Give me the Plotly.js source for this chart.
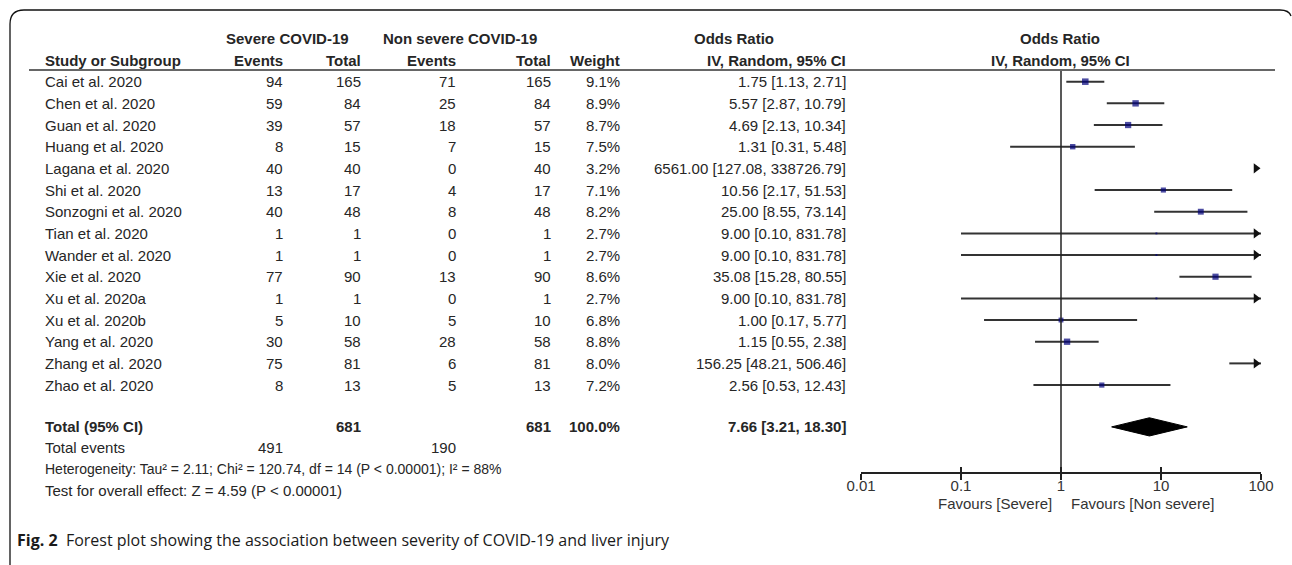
<!DOCTYPE html>
<html><head><meta charset="utf-8">
<script src="https://cdn.plot.ly/plotly-3.0.1.min.js"></script>
<style>html,body{margin:0;padding:0;background:#fff;} #chart{width:1292px;height:565px;}</style>
</head><body><div id="chart"></div>
<script>
// ---------- data ----------
const studies = ["Cai et al. 2020","Chen et al. 2020","Guan et al. 2020","Huang et al. 2020","Lagana et al. 2020","Shi et al. 2020","Sonzogni et al. 2020","Tian et al. 2020","Wander et al. 2020","Xie et al. 2020","Xu et al. 2020a","Xu et al. 2020b","Yang et al. 2020","Zhang et al. 2020","Zhao et al. 2020"];
const sevEvents = [94,59,39,8,40,13,40,1,1,77,1,5,30,75,8];
const sevTotal  = [165,84,57,15,40,17,48,1,1,90,1,10,58,81,13];
const nonEvents = [71,25,18,7,0,4,8,0,0,13,0,5,28,6,5];
const nonTotal  = [165,84,57,15,40,17,48,1,1,90,1,10,58,81,13];
const weights   = [9.1,8.9,8.7,7.5,3.2,7.1,8.2,2.7,2.7,8.6,2.7,6.8,8.8,8.0,7.2];
const oddsRatio = [1.75,5.57,4.69,1.31,6561.00,10.56,25.00,9.00,9.00,35.08,9.00,1.00,1.15,156.25,2.56];
const ciLower   = [1.13,2.87,2.13,0.31,127.08,2.17,8.55,0.10,0.10,15.28,0.10,0.17,0.55,48.21,0.53];
const ciUpper   = [2.71,10.79,10.34,5.48,338726.79,51.53,73.14,831.78,831.78,80.55,831.78,5.77,2.38,506.46,12.43];
const totalSev = 681, totalNon = 681, totalWeight = 100.0;
const eventsSev = 491, eventsNon = 190;
const pooledOR = 7.66, pooledLo = 3.21, pooledHi = 18.30;
const axisTicks = [0.01,0.1,1,10,100];
const axisTickText = ["0.01","0.1","1","10","100"];
const heterogeneityText = "Heterogeneity: Tau² = 2.11; Chi² = 120.74, df = 14 (P < 0.00001); I² = 88%";
const overallText = "Test for overall effect: Z = 4.59 (P < 0.00001)";
const captionBold = "Fig. 2";
const captionText = "Forest plot showing the association between severity of COVID-19 and liver injury";

// ---------- layout helpers ----------
const W = 1292, H = 565;
const AMIN = 0.01, AMAX = 100;
const px = x => x / W;
const py = y => 1 - y / H;
const FONT = "Arial, 'Liberation Sans', sans-serif";
const TXT = "#262626";
const fmt = v => v.toFixed(2);
const orLabel = (o, l, h) => fmt(o) + " [" + fmt(l) + ", " + fmt(h) + "]";

const ann = [];
function t(x, row, text, anchor, bold, extra) {
  ann.push(Object.assign({
    xref: "paper", yref: "y", x: px(x), y: row, text: bold ? "<b>" + text + "</b>" : text,
    xanchor: anchor, yanchor: "middle", showarrow: false,
    font: {family: FONT, size: 15, color: TXT}
  }, extra || {}));
}
// column right edges
const C = {study: 43, se: 285, st: 363, ne: 458, nt: 553, w: 622, or: 848};

// headers
const H1 = -1.98, H2 = -0.98;
t(287, H1, "Severe COVID-19", "center", true);
t(460, H1, "Non severe COVID-19", "center", true);
t(734, H1, "Odds Ratio", "center", true);
t(1060, H1, "Odds Ratio", "center", true);
t(C.study, H2, "Study or Subgroup", "left", true);
t(C.se, H2, "Events", "right", true);
t(C.st, H2, "Total", "right", true);
t(C.ne, H2, "Events", "right", true);
t(C.nt, H2, "Total", "right", true);
t(C.w, H2, "Weight", "right", true);
t(C.or, H2, "IV, Random, 95% CI", "right", true);
t(1060, H2, "IV, Random, 95% CI", "center", true);

// study rows
studies.forEach((s, i) => {
  t(C.study, i, s, "left");
  t(C.se, i, String(sevEvents[i]), "right");
  t(C.st, i, String(sevTotal[i]), "right");
  t(C.ne, i, String(nonEvents[i]), "right");
  t(C.nt, i, String(nonTotal[i]), "right");
  t(C.w, i, weights[i].toFixed(1) + "%", "right");
  t(C.or, i, orLabel(oddsRatio[i], ciLower[i], ciUpper[i]), "right");
});

// totals
const RT = 15.93, RE = 16.9, RH = 17.87, RZ = 18.88, RF = 19.45;
t(C.study, RT, "Total (95% CI)", "left", true);
t(C.st, RT, String(totalSev), "right", true);
t(C.nt, RT, String(totalNon), "right", true);
t(C.w, RT, totalWeight.toFixed(1) + "%", "right", true);
t(C.or, RT, orLabel(pooledOR, pooledLo, pooledHi), "right", true);
t(C.study, RE, "Total events", "left");
t(C.se, RE, String(eventsSev), "right");
t(C.ne, RE, String(eventsNon), "right");
t(C.study, RH, heterogeneityText, "left", false, {font: {family: FONT, size: 14, color: TXT}});
t(C.study, RZ, overallText, "left");
t(1054, RF, "Favours [Severe]", "right", false, {font: {family: FONT, size: 15, color: "#333"}});
t(1069, RF, "Favours [Non severe]", "left", false, {font: {family: FONT, size: 15, color: "#333"}});

// caption
ann.push({
  xref: "paper", yref: "paper", x: px(15), y: py(540), xanchor: "left", yanchor: "middle", showarrow: false,
  text: "<b>" + captionBold + "</b>  " + captionText,
  font: {family: "'Open Sans', 'Noto Sans', sans-serif", size: 16, color: "#1a1a1a"}
});

// ---------- traces ----------
const lineX = [], lineY = [];
const ptX = [], ptY = [], ptS = [];
const arX = [], arY = [];
studies.forEach((s, i) => {
  const lo = Math.max(ciLower[i], AMIN), hi = Math.min(ciUpper[i], AMAX);
  if (lo < hi) { lineX.push(lo, hi, null); lineY.push(i, i, null); }
  if (oddsRatio[i] >= AMIN && oddsRatio[i] <= AMAX) { ptX.push(oddsRatio[i]); ptY.push(i); ptS.push(weights[i] * 0.72); }
  if (ciUpper[i] > AMAX) { arX.push(AMAX); arY.push(i); }
});

const traces = [
  {x: [1, 1], y: [-0.54, 18.0], xaxis: "x2", yaxis: "y", mode: "lines", line: {color: "#222", width: 1.5}, hoverinfo: "skip", showlegend: false},
  {x: lineX, y: lineY, mode: "lines", line: {color: "#333", width: 2}, hoverinfo: "skip", showlegend: false},
  {x: ptX, y: ptY, mode: "markers", marker: {symbol: "square", size: ptS, color: "#00007a", line: {width: 0}}, hoverinfo: "skip", showlegend: false},
  {x: arX, y: arY, mode: "markers", cliponaxis: false, marker: {symbol: "triangle-right", size: 9, color: "#111", line: {width: 0}}, hoverinfo: "skip", showlegend: false,
   xaxis: "x3", yaxis: "y"},
  {x: [pooledLo, pooledOR, pooledHi, pooledOR, pooledLo], y: [RT, RT - 0.42, RT, RT + 0.42, RT],
   mode: "lines", fill: "toself", fillcolor: "#000", line: {color: "#000", width: 1}, hoverinfo: "skip", showlegend: false}
];

const axisPos = py(472);
const baseX = {
  type: "log", range: [-2, 2], domain: [px(861), px(1261)],
  anchor: "free", position: axisPos, showgrid: false, zeroline: false,
  tickvals: axisTicks, fixedrange: true
};

const layout = {
  width: W, height: H, margin: {l: 0, r: 0, t: 0, b: 0},
  paper_bgcolor: "#fff", plot_bgcolor: "rgba(0,0,0,0)", showlegend: false,
  xaxis: Object.assign({}, baseX, {
    showline: true, linecolor: "#222", linewidth: 1.5,
    ticks: "outside", ticklen: 6, tickwidth: 1.5, tickcolor: "#222",
    ticktext: axisTickText, showticklabels: true, ticklabelstandoff: -7,
    tickfont: {family: FONT, size: 15, color: "#333"}
  }),
  xaxis2: Object.assign({}, baseX, {
    overlaying: "x", showline: false,
    ticks: "inside", ticklen: 5, tickwidth: 1.5, tickcolor: "#222", showticklabels: false
  }),
  // same log scale, shifted left by the arrowhead's overhang so the tip lands on the axis limit
  xaxis3: Object.assign({}, baseX, {
    domain: [px(856), px(1256)], visible: false, showticklabels: false, ticks: "", showline: false
  }),
  yaxis: {range: [22.304, -3.77], domain: [0, 1], visible: false, fixedrange: true},
  annotations: ann,
  shapes: [
    {type: "line", xref: "paper", yref: "paper", x0: px(29), x1: px(1275), y0: py(70), y1: py(70), line: {color: "#666", width: 2.2}},
    {type: "path", xref: "paper", yref: "paper",
     path: "M" + px(10) + "," + py(565) + " L" + px(10) + "," + py(24) + " Q" + px(10) + "," + py(10) + " " + px(24) + "," + py(10) +
           " L" + px(1280) + "," + py(10) + " Q" + px(1289) + "," + py(10) + " " + px(1291) + "," + py(16),
     line: {color: "#111", width: 1.3}}
  ]
};

Plotly.newPlot("chart", traces, layout, {displayModeBar: false, staticPlot: true});
</script>
</body></html>
